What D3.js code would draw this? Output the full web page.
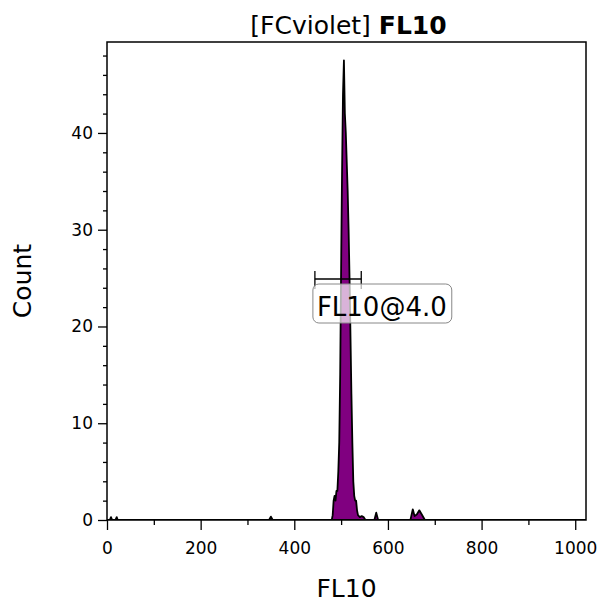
<!DOCTYPE html>
<html>
<head>
<meta charset="utf-8">
<script src="https://cdn.jsdelivr.net/npm/d3@7"></script>
<style>
	body { margin: 0; background: #fff; }
	text { font-family: 'DejaVu Sans', sans-serif; }
</style>
</head>
<body>
<svg id="chart" width="600" height="605"></svg>
<script>
// histogram of FL10 (points of the outline, zero where nothing was counted)
const fl10 = [0, 6, 8.5, 11, 18, 20.7, 23, 346, 350, 354, 480, 482, 484, 486, 488, 490, 492, 494, 496, 498, 500, 502, 504, 506, 508, 510, 512, 514, 516, 518, 520, 522, 524, 526, 528, 530, 532, 534, 536, 540, 544, 548, 552, 571, 575, 579, 648, 653, 657, 662, 667, 672, 679, 1023];
const count = [0, 0, 0.3, 0, 0, 0.3, 0, 0, 0.35, 0, 0, 0.5, 2, 2.5, 2, 3, 3, 5, 8, 15, 26, 36, 44, 47.5, 42, 40, 37, 34, 30, 25, 19, 13, 8, 4, 2.5, 2, 2, 1, 0.5, 0.3, 0.4, 0.3, 0, 0, 0.75, 0, 0, 1.1, 0.4, 0.6, 1.0, 0.6, 0, 0];

const xTicks = [0, 200, 400, 600, 800, 1000];
const xMinor = [100, 300, 500, 700, 900];
const yTicks = [0, 10, 20, 30, 40];
const yMinor = [2, 4, 6, 8, 12, 14, 16, 18, 22, 24, 26, 28, 32, 34, 36, 38, 42, 44, 46, 48];

const gate = [444, 543];
const gateLabel = 'FL10@4.0';

const margin = { left: 107, right: 14, top: 42, bottom: 85 };
const width = 600, height = 605;

const svg = d3.select('#chart');
const x = d3.scaleLinear().domain([0, 1023]).range([margin.left, width - margin.right]);
const y = d3.scaleLinear().domain([0, 49.4]).range([height - margin.bottom, margin.top]);

const data = d3.zip(fl10, count);

svg.append('clipPath').attr('id', 'clip')
	.append('rect')
	.attr('x', margin.left).attr('y', margin.top)
	.attr('width', x.range()[1] - margin.left)
	.attr('height', y.range()[0] - margin.top);

const area = d3.area()
	.x((d) => x(d[0]))
	.y0(y(0))
	.y1((d) => y(d[1]));

svg.append('path')
	.datum(data)
	.attr('clip-path', 'url(#clip)')
	.attr('d', area)
	.style('fill', '#800080')
	.style('stroke', '#000')
	.style('stroke-width', 1.8)
	.style('stroke-linejoin', 'round');

// frame
svg.append('rect')
	.attr('x', margin.left).attr('y', margin.top)
	.attr('width', x.range()[1] - margin.left)
	.attr('height', y.range()[0] - margin.top)
	.style('fill', 'none')
	.style('stroke', '#000')
	.style('stroke-width', 1.5);

// axes
const xAxis = svg.append('g').attr('transform', `translate(0,${y(0)})`)
	.call(d3.axisBottom(x).tickValues(xTicks).tickSize(10).tickPadding(12).tickFormat(d3.format('d')));
svg.append('g').attr('transform', `translate(0,${y(0)})`)
	.call(d3.axisBottom(x).tickValues(xMinor).tickSize(5).tickFormat(''));
const yAxis = svg.append('g').attr('transform', `translate(${margin.left},0)`)
	.call(d3.axisLeft(y).tickValues(yTicks).tickSize(9).tickPadding(5));
svg.append('g').attr('transform', `translate(${margin.left},0)`)
	.call(d3.axisLeft(y).tickValues(yMinor).tickSize(4).tickFormat(''));

svg.selectAll('.domain').remove();
svg.selectAll('.tick line').style('stroke', '#000').style('stroke-width', 1.3);
xAxis.selectAll('text').style('font-size', '17px').style('fill', '#000');
yAxis.selectAll('text').style('font-size', '17px').style('fill', '#000');

// gate
const gy = 279;
const g = svg.append('g').style('stroke', '#000').style('stroke-width', 1.3);
g.append('line').attr('x1', x(gate[0])).attr('x2', x(gate[1])).attr('y1', gy).attr('y2', gy);
gate.forEach((v) => {
	g.append('line').attr('x1', x(v)).attr('x2', x(v)).attr('y1', gy - 8).attr('y2', gy + 10);
});

const label = svg.append('g');
const lbText = label.append('text')
	.attr('x', x(gate[0]) + 2)
	.attr('y', 316)
	.style('font-size', '26px')
	.style('fill', '#000')
	.text(gateLabel);
const bb = lbText.node().getBBox();
label.insert('rect', 'text')
	.attr('x', bb.x - 4).attr('y', 284)
	.attr('width', bb.width + 9).attr('height', 39)
	.attr('rx', 6)
	.style('fill', 'rgba(255,255,255,0.7)')
	.style('stroke', '#888')
	.style('stroke-width', 1);

// titles
const title = svg.append('text')
	.attr('x', (margin.left + x.range()[1]) / 2 + 2)
	.attr('y', 34)
	.attr('text-anchor', 'middle')
	.style('font-size', '25px');
title.append('tspan').text('[FCviolet] ');
title.append('tspan').style('font-weight', 'bold').text('FL10');

svg.append('text')
	.attr('x', (margin.left + x.range()[1]) / 2)
	.attr('y', 597)
	.attr('text-anchor', 'middle')
	.style('font-size', '25px')
	.text('FL10');

svg.append('text')
	.attr('transform', `translate(31,${(margin.top + y.range()[0]) / 2}) rotate(-90)`)
	.attr('text-anchor', 'middle')
	.style('font-size', '25px')
	.text('Count');
</script>
</body>
</html>
